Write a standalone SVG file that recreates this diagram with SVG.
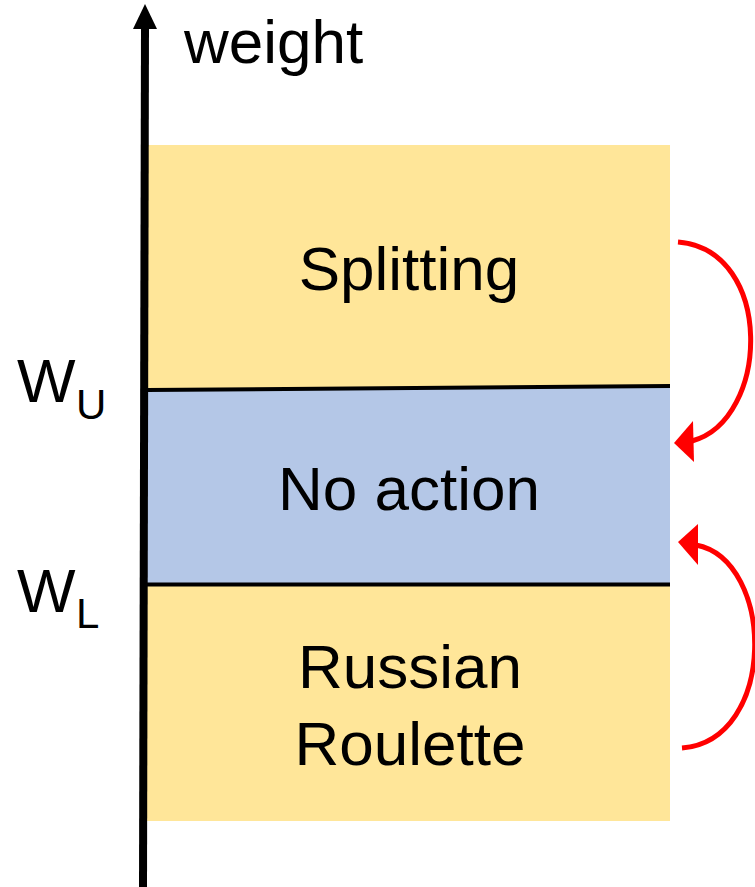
<svg xmlns="http://www.w3.org/2000/svg" width="755" height="887" viewBox="0 0 755 887">
  <style>
    .lbl { font-family: "Liberation Sans", Arial, sans-serif; font-size: 62px; fill: #000; }
    .sub { font-family: "Liberation Sans", Arial, sans-serif; font-size: 42px; fill: #000; }
    .mid { text-anchor: middle; }
    .sep { stroke: #000; stroke-width: 4; fill: none; }
    .arc { stroke: #FF0000; stroke-width: 5; fill: none; }
    .head { fill: #FF0000; }
  </style>
  <rect width="755" height="887" fill="#FFFFFF"/>

  <!-- weight regions -->
  <g id="splitting">
    <rect x="147" y="145" width="523" height="244" fill="#FFE699"/>
    <text class="lbl mid" x="409" y="290">Splitting</text>
  </g>
  <g id="no-action">
    <rect x="147" y="388" width="523" height="197" fill="#B4C7E7"/>
    <text class="lbl mid" x="409" y="510">No action</text>
  </g>
  <g id="russian-roulette">
    <rect x="147" y="584" width="523" height="237" fill="#FFE699"/>
    <text class="lbl mid" x="410" y="688">Russian</text>
    <text class="lbl mid" x="410" y="765">Roulette</text>
  </g>

  <!-- thresholds -->
  <g id="thresholds">
    <line class="sep" x1="147" y1="390" x2="670" y2="386"/>
    <line class="sep" x1="147" y1="584.5" x2="670" y2="584.5"/>
  </g>

  <!-- weight axis -->
  <g id="axis">
    <line x1="143" y1="887" x2="145" y2="26" stroke="#000" stroke-width="8"/>
    <polygon points="145,4 133,29 157,29" fill="#000"/>
    <text class="lbl" x="184" y="63">weight</text>
  </g>
  <g id="w-upper">
    <text class="lbl" x="17" y="402">W</text>
    <text class="sub" x="76" y="419">U</text>
  </g>
  <g id="w-lower">
    <text class="lbl" x="17" y="612">W</text>
    <text class="sub" x="76" y="628">L</text>
  </g>

  <!-- transitions -->
  <g id="connectors">
    <path class="arc" d="M678,242 C775,250 770,420 692,441"/>
    <polygon class="head" points="674,443 693,421 694,462"/>
    <path class="arc" d="M682,748 C778,740 775,560 696,545"/>
    <polygon class="head" points="678,542 698,524 698,565"/>
  </g>
</svg>
